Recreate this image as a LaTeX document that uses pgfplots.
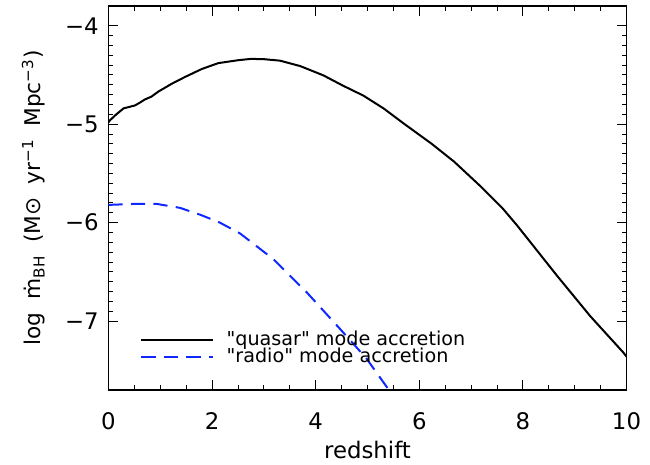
\documentclass[border=0pt]{standalone}
\usepackage{fontspec}
\setmainfont{DejaVu Sans}
\usepackage{pgfplots}
\pgfplotsset{compat=1.18}
\definecolor{radioblue}{RGB}{15,40,255}

\pgfplotstableread{
z     mdot
0.00  -4.98
0.03  -4.96
0.13  -4.91
0.29  -4.84
0.40  -4.825
0.51  -4.81
0.61  -4.78
0.70  -4.75
0.83  -4.72
0.96  -4.67
1.22  -4.59
1.48  -4.52
1.80  -4.44
2.12  -4.38
2.51  -4.35
2.75  -4.337
3.00  -4.34
3.31  -4.355
3.70  -4.41
4.15  -4.505
4.53  -4.61
4.92  -4.71
5.31  -4.84
5.69  -4.99
6.24  -5.20
6.67  -5.38
7.18  -5.63
7.60  -5.85
7.89  -6.03
8.66  -6.54
9.30  -6.95
9.94  -7.32
10.00 -7.36
}\quasar

\pgfplotstableread{
z     mdot
0.00  -5.82
0.50  -5.81
0.93  -5.81
1.38  -5.85
1.77  -5.92
2.15  -6.00
2.54  -6.11
2.86  -6.24
3.18  -6.37
3.83  -6.71
4.47  -7.08
4.98  -7.38
5.40  -7.69
5.50  -7.76
}\radio

\begin{document}
\begin{tikzpicture}
\begin{axis}[
    scale only axis,
    width=310.8pt, height=230.4pt,
    xmin=0, xmax=10, ymin=-7.7, ymax=-3.8,
    xtick={0,2,4,6,8,10}, xticklabels={0,2,4,6,8,10},
    ytick={-7,-6,-5,-4}, yticklabels={−7,−6,−5,−4},
    minor x tick num=3, minor y tick num=9,
    tick align=inside,
    major tick length=6pt, minor tick length=3pt,
    every tick/.style={black, line width=0.6pt},
    axis line style={line width=0.9pt},
    tick label style={font=\fontsize{13.7}{16}\selectfont},
    xticklabel style={anchor=base, yshift=-23.7pt},
    yticklabel style={anchor=east, inner sep=0pt, xshift=-5.7pt},
    xlabel={redshift},
    xlabel style={font=\fontsize{13.7}{16}\selectfont,
        at={([yshift=-41.3pt]axis description cs:0.5,0)}, anchor=base},
    ylabel={log\hspace{0.6em}ṁ\textsubscript{BH}\hspace{0.6em}(M⊙\hspace{0.6em}yr\textsuperscript{−1}\hspace{0.6em}Mpc\textsuperscript{−3})},
    ylabel style={font=\fontsize{13}{15}\selectfont,
        at={([xshift=-45pt]axis description cs:0,0.5)}, anchor=center},
    legend style={at={(axis cs:0.61,-7.09)}, anchor=north west,
        draw=none, fill=none, inner sep=0pt,
        font=\fontsize{11.5}{13}\selectfont,
        column sep=6.8pt, row sep=-1pt,
        nodes={inner sep=0.5pt}},
    legend cell align=left,
    legend image code/.code={\draw[#1] (0pt,0pt) -- (43.2pt,0pt);},
]
\addplot[black, line width=1.2pt] table[x=z, y=mdot] {\quasar};
\addplot[radioblue, line width=1.2pt, dash pattern=on 8.5pt off 5pt] table[x=z, y=mdot] {\radio};
\legend{\textquotedbl quasar\textquotedbl{} mode accretion, \textquotedbl radio\textquotedbl{} mode accretion}
\end{axis}
\pgfresetboundingbox
\path[use as bounding box] (-65.1pt,-44.4pt) rectangle (324.9pt,234pt);
\end{tikzpicture}
\end{document}
